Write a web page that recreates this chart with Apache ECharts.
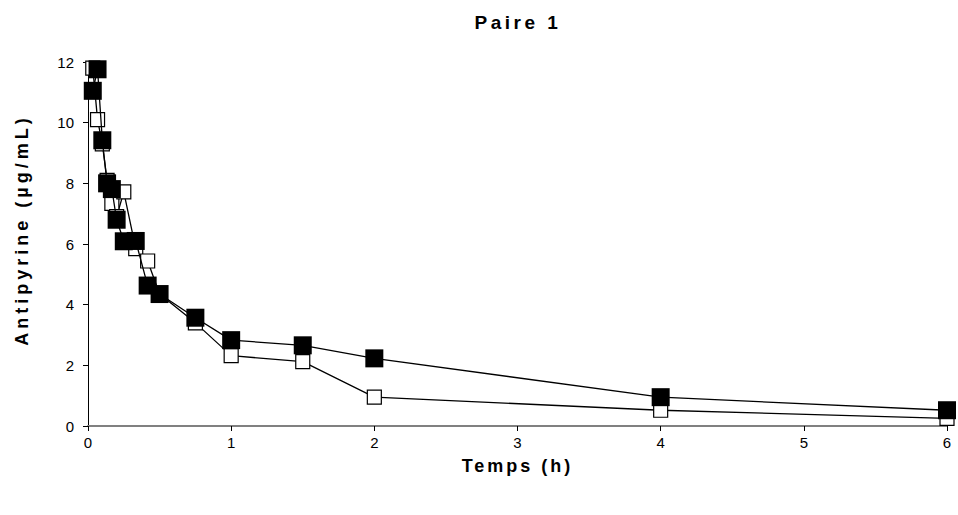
<!DOCTYPE html>
<html>
<head>
<meta charset="utf-8">
<script src="https://cdn.jsdelivr.net/npm/echarts@6/dist/echarts.min.js"></script>
<style>
  html, body { margin: 0; padding: 0; background: #fff; }
  #chart { width: 958px; height: 515px; }
</style>
</head>
<body>
<div id="chart"></div>
<script>
// Sampling times (minutes after dosing)
var timesMin = [2, 4, 6, 8, 10, 12, 15, 20, 25, 30, 45, 60, 90, 120, 240, 360];
// Antipyrine concentrations (µg/mL)
var openSeries = [11.8, 10.1, 9.3, 8.1, 7.34, 6.9, 7.72, 5.85, 5.44, 4.35, 3.4, 2.32, 2.12, 0.95, 0.52, 0.25];
var filledSeries = [11.05, 11.76, 9.42, 8.0, 7.81, 6.8, 6.09, 6.1, 4.63, 4.35, 3.57, 2.83, 2.66, 2.23, 0.95, 0.52];
var xTicks = [0, 1, 2, 3, 4, 5, 6];
var yTicks = [0, 2, 4, 6, 8, 10, 12];

var titleText = 'Paire 1';
var xName = 'Temps (h)';
var yName = 'Antipyrine (µg/mL)';

function pairs(values) {
  return timesMin.map(function (t, i) { return [t / 60, values[i]]; });
}

var font = '"Liberation Sans", Arial, sans-serif';
var chart = echarts.init(document.getElementById('chart'), null, { renderer: 'svg' });

chart.setOption({
  animation: false,
  backgroundColor: '#ffffff',
  title: {
    text: titleText,
    left: 513,
    top: 8,
    textAlign: 'center',
    textStyle: { fontFamily: font, fontSize: 19, fontWeight: 'bold', color: '#000' }
  },
  grid: { left: 88, right: 11, top: 62, bottom: 89, containLabel: false },
  xAxis: {
    type: 'value',
    min: xTicks[0],
    max: xTicks[xTicks.length - 1],
    interval: 1,
    name: xName,
    nameLocation: 'middle',
    nameGap: 31,
    nameTextStyle: { fontFamily: font, fontSize: 18, fontWeight: 'bold', color: '#000' },
    axisLine: { lineStyle: { color: '#808080', width: 2 } },
    axisTick: { show: true, length: 5, lineStyle: { color: '#000', width: 1 } },
    axisLabel: { fontFamily: font, fontSize: 15, color: '#000', margin: 9 },
    splitLine: { show: false }
  },
  yAxis: {
    type: 'value',
    min: yTicks[0],
    max: yTicks[yTicks.length - 1],
    interval: 2,
    name: yName,
    nameLocation: 'middle',
    nameGap: 57,
    nameTextStyle: { fontFamily: font, fontSize: 18, fontWeight: 'bold', color: '#000', padding: [0, 0, 0, 28] },
    axisLine: { show: true, lineStyle: { color: '#000', width: 1 } },
    axisTick: { show: true, length: 5, lineStyle: { color: '#000', width: 1 } },
    axisLabel: { fontFamily: font, fontSize: 15, color: '#000', margin: 14 },
    splitLine: { show: false }
  },
  series: [
    {
      name: 'open',
      type: 'line',
      data: pairs(openSeries),
      symbol: 'rect',
      symbolSize: 14,
      showAllSymbol: true,
      lineStyle: { color: '#000', width: 1.3 },
      itemStyle: { color: '#fff', borderColor: '#000', borderWidth: 1.2 },
      z: 2
    },
    {
      name: 'filled',
      type: 'line',
      data: pairs(filledSeries),
      symbol: 'rect',
      symbolSize: 18,
      showAllSymbol: true,
      lineStyle: { color: '#000', width: 1.3 },
      itemStyle: { color: '#000', borderColor: '#000', borderWidth: 0 },
      z: 3
    }
  ]
});

// Widen the tracking of the title and axis names
var spaced = {};
spaced[titleText] = '3.5px';
spaced[xName] = '3px';
spaced[yName] = '4px';
document.querySelectorAll('#chart svg text').forEach(function (el) {
  var s = spaced[el.textContent];
  if (s) { el.style.letterSpacing = s; }
});
</script>
</body>
</html>
